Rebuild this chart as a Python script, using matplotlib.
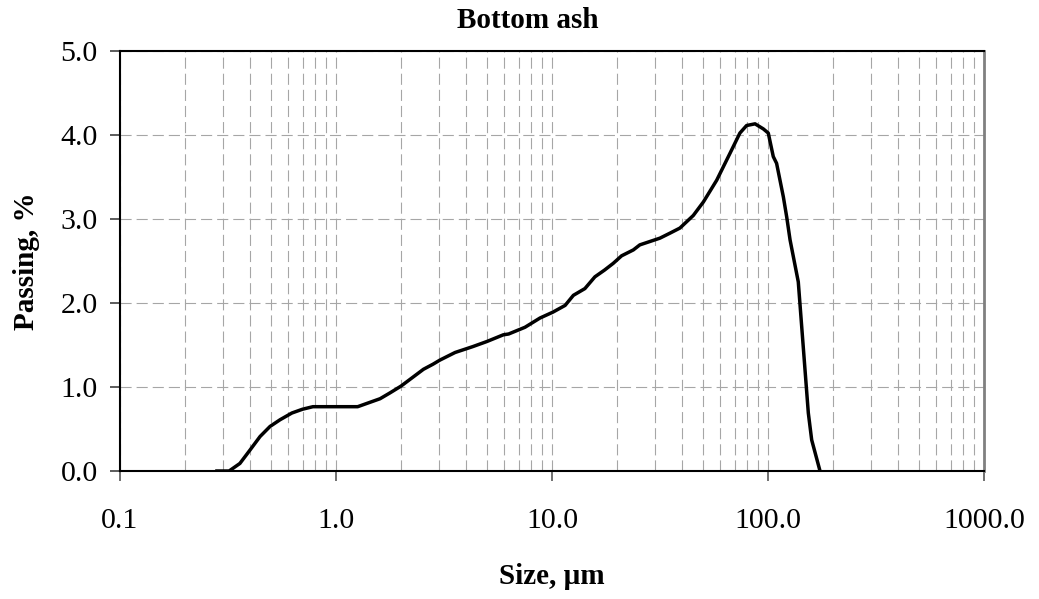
import matplotlib
matplotlib.use("Agg")
import matplotlib.pyplot as plt
from matplotlib.ticker import LogLocator, FixedLocator, NullFormatter

# Data
size_um = [0.281, 0.32, 0.359, 0.40, 0.445, 0.495, 0.551, 0.625, 0.70, 0.782,
           1.0, 1.26, 1.6, 1.78, 2.0, 2.54, 2.81, 3.03, 3.56, 4.3, 4.99, 5.95,
           6.3, 7.5, 8.8, 10.1, 11.5, 12.56, 14.2, 15.8, 17.5, 19.2, 21.0,
           23.8, 25.5, 31.6, 35.2, 39.1, 45.1, 50.2, 57.9, 66.7, 74.1, 79.6,
           87.1, 95.1, 100.3, 105.8, 109.6, 117.8, 122.1, 126.5, 138.1, 143.2,
           153.7, 159.3, 174.1]
passing_pct = [0.0, 0.0, 0.09, 0.25, 0.41, 0.53, 0.61, 0.69, 0.735, 0.765,
               0.765, 0.765, 0.86, 0.93, 1.01, 1.21, 1.27, 1.32, 1.41, 1.48, 1.54, 1.62,
               1.63, 1.71, 1.82, 1.89, 1.97, 2.09, 2.17, 2.31, 2.39, 2.47, 2.56,
               2.63, 2.69, 2.77, 2.83, 2.89, 3.04, 3.20, 3.46, 3.78, 4.02, 4.11,
               4.13, 4.07, 4.02, 3.74, 3.66, 3.26, 3.02, 2.75, 2.25, 1.72,
               0.69, 0.37, 0.0]

x_ticks = [0.1, 1.0, 10.0, 100.0, 1000.0]
x_tick_labels = ["0.1", "1.0", "10.0", "100.0", "1000.0"]
y_ticks = [0.0, 1.0, 2.0, 3.0, 4.0, 5.0]
y_tick_labels = ["0.0", "1.0", "2.0", "3.0", "4.0", "5.0"]

title = "Bottom ash"
xlabel = "Size, \u00b5m"
ylabel = "Passing, %"

plt.rcParams['font.family'] = ['Liberation Serif', 'DejaVu Serif']

fig = plt.figure(figsize=(10.39, 5.99), dpi=100)
ax = fig.add_axes([120/1039, 1 - 471/599, (984-120)/1039, (471-50.7)/599])

ax.plot(size_um, passing_pct, color='black', lw=2.5, solid_joinstyle='round')

ax.set_xscale('log')
ax.set_xlim(0.1, 1000)
ax.set_ylim(0, 5)

ax.xaxis.set_major_locator(FixedLocator(x_ticks))
ax.set_xticklabels(x_tick_labels)
ax.xaxis.set_minor_locator(LogLocator(base=10, subs=[2, 3, 4, 5, 6, 7, 8, 9]))
ax.xaxis.set_minor_formatter(NullFormatter())
ax.set_yticks(y_ticks)
ax.set_yticklabels(y_tick_labels)

grid_kw = dict(color='#a6a6a6', lw=0.8, dashes=(10, 4.5))
ax.grid(True, which='major', axis='y', **grid_kw)
ax.grid(True, which='both', axis='x', **grid_kw)
ax.set_axisbelow(True)

ax.tick_params(axis='x', which='major', direction='out', length=7, width=1.4,
               color='#707070', labelsize=21.5, pad=20)
ax.tick_params(axis='x', which='minor', length=0)
ax.tick_params(axis='y', which='major', direction='out', length=7, width=1.2,
               color='#404040', labelsize=21.5, pad=9)

for s in ['left', 'bottom', 'top']:
    ax.spines[s].set_color('black')
    ax.spines[s].set_linewidth(1.5)
ax.spines['right'].set_color('#808080')
ax.spines['right'].set_linewidth(2)

fig.text(528/1039, 1 - 20/599, title, ha='center', va='center',
         fontsize=21, fontweight='bold')
fig.text(552/1039, 1 - 577/599, xlabel, ha='center', va='center',
         fontsize=21, fontweight='bold')
fig.text(27/1039, 1 - 261/599, ylabel, ha='center', va='center',
         fontsize=21, fontweight='bold', rotation=90)

fig.savefig("out.png", dpi=100)
